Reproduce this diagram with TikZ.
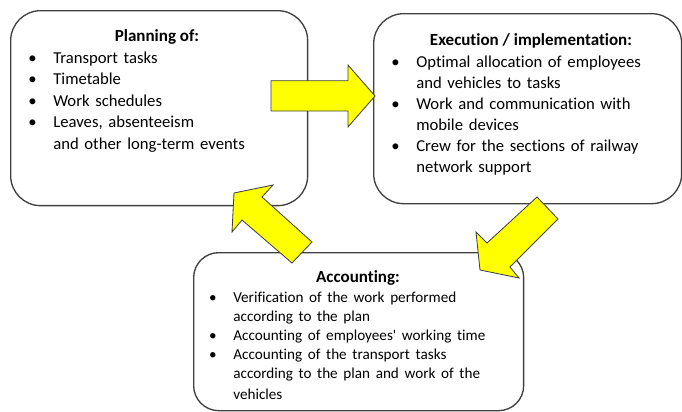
\documentclass[tikz,border=0pt]{standalone}
\usepackage{fontspec}
\setmainfont{Carlito}[Ligatures=NoCommon]
\definecolor{boxgray}{rgb}{0.25,0.25,0.25}
\definecolor{arrowyellow}{rgb}{1,1,0}
\newcommand{\bl}{\leavevmode\llap{\textbullet\hspace{10pt}}}

\begin{document}
\begin{tikzpicture}[x=0.6pt,y=-0.6pt,
	stagebox/.style={draw=boxgray,line width=0.8pt,rounded corners=18pt,
		anchor=north west,inner sep=0pt},
	blockarrow/.style={draw=boxgray,line width=0.5pt,fill=arrowyellow,line join=miter},
	boxtitle/.style={anchor=base,inner sep=0pt,font=\bfseries},
	boxlist/.style={anchor=base west,inner sep=0pt,align=left}]
\useasboundingbox (0,0) rectangle (682,412);
\fontsize{10.2pt}{12.9pt}\selectfont
% the three stages
\node[stagebox,minimum width=178.2pt,minimum height=117pt] (plan) at (10,10) {};
\node[stagebox,minimum width=184.8pt,minimum height=114pt] (exec) at (373,13) {};
\node[stagebox,rounded corners=15pt,minimum width=198pt,minimum height=94.8pt] (acct) at (193,252) {};
% texts
\node[boxtitle] (plantitle) at (157,41) {Planning of:};
\node[boxlist,text width=150pt] (planlist) at (53,63) {\fontsize{10pt}{12.9pt}\selectfont
	\bl Transport tasks\\
	\bl Timetable\\
	\bl Work schedules\\
	\bl Leaves, absenteeism\\
	and other long-term events};
\node[boxtitle] (exectitle) at (531,45) {Execution / implementation:};
\node[boxlist,text width=160pt] (execlist) at (416,67) {\fontsize{10pt}{12.6pt}\selectfont
	\bl Optimal allocation of employees\\
	and vehicles to tasks\\
	\bl Work and communication with\\
	mobile devices\\
	\bl Crew for the sections of railway\\
	network support};
\node[boxtitle] (accttitle) at (358,282) {Accounting:};
\node[boxlist,text width=170pt] (acctlist) at (233,302) {\fontsize{9.1pt}{11.4pt}\selectfont
	\bl Verification of the work performed\\
	according to the plan\\
	\bl Accounting of employees\textquotesingle\ working time\\
	\bl Accounting of the transport tasks\\
	according to the plan and work of the\\
	vehicles};
% arrows between the stages
\draw[blockarrow] (271,80.7) -- (348,80.7) -- (348,65) -- (375,96)
	-- (348,127) -- (348,111) -- (271,111) -- cycle;
\draw[blockarrow] (537,197) -- (558,219) -- (510,267) -- (519,278)
	-- (480,270) -- (476,232) -- (487,243) -- cycle;
\draw[blockarrow] (312,242) -- (292,263) -- (242,220) -- (232,232)
	-- (234,193) -- (273,185) -- (262,197) -- cycle;
\end{tikzpicture}
\end{document}
